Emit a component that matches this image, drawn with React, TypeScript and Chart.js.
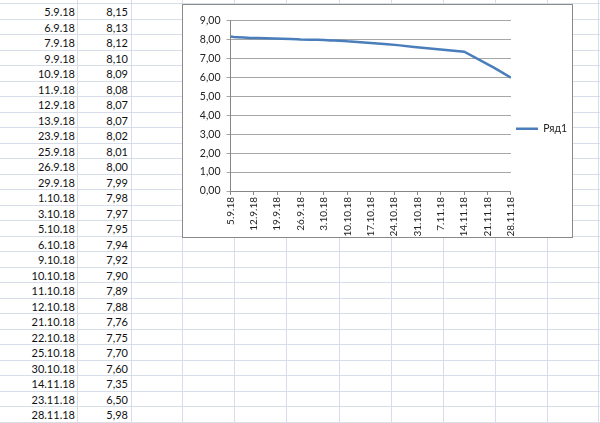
import React, { useEffect, useRef } from 'react';
import { Chart, registerables } from 'chart.js';

Chart.register(...registerables);

const dates = [
  '5.9.18', '6.9.18', '7.9.18', '9.9.18', '10.9.18', '11.9.18', '12.9.18', '13.9.18',
  '23.9.18', '25.9.18', '26.9.18', '29.9.18', '1.10.18', '3.10.18', '5.10.18', '6.10.18',
  '9.10.18', '10.10.18', '11.10.18', '12.10.18', '21.10.18', '22.10.18', '25.10.18',
  '30.10.18', '14.11.18', '23.11.18', '28.11.18',
];
const values = [
  8.15, 8.13, 8.12, 8.1, 8.09, 8.08, 8.07, 8.07,
  8.02, 8.01, 8.0, 7.99, 7.98, 7.97, 7.95, 7.94,
  7.92, 7.9, 7.89, 7.88, 7.76, 7.75, 7.7,
  7.6, 7.35, 6.5, 5.98,
];
const xTickLabels = [
  '5.9.18', '12.9.18', '19.9.18', '26.9.18', '3.10.18', '10.10.18', '17.10.18',
  '24.10.18', '31.10.18', '7.11.18', '14.11.18', '21.11.18', '28.11.18',
];
const yTickMin = 0;
const yTickMax = 9;
const tickStepDays = 7;
const seriesName = 'Ряд1';

const dayNumber = (s: string) => {
  const [d, m, y] = s.split('.').map(Number);
  return Date.UTC(2000 + y, m - 1, d) / 86400000;
};
const startDay = dayNumber(dates[0]);
const points = dates.map((d, i) => ({ x: dayNumber(d) - startDay, y: values[i] }));
const fmt = (v: number) => v.toFixed(2).replace('.', ',');

const LINE = '#4a7ebb';
const FONT = 'Lato, "Liberation Sans", sans-serif';
const colX = [77, 131, 182, 234, 286, 339, 391, 443, 495, 547, 598];
const ROW_TOP = 3;
const ROW_H = 15.5;

function ChartBox() {
  const ref = useRef<HTMLCanvasElement | null>(null);
  useEffect(() => {
    if (!ref.current) return;
    const chart = new Chart(ref.current, {
      type: 'line',
      data: {
        datasets: [
          {
            label: seriesName,
            data: points,
            borderColor: LINE,
            backgroundColor: LINE,
            borderWidth: 2.5,
            pointRadius: 0,
            tension: 0,
            fill: false,
          },
        ],
      },
      options: {
        animation: false,
        responsive: false,
        maintainAspectRatio: false,
        layout: { padding: { top: 15.5, right: -5, bottom: 0, left: 0 } },
        plugins: {
          tooltip: { enabled: false },
          legend: {
            position: 'right',
            labels: {
              boxWidth: 22,
              boxHeight: 2.5,
              padding: 5,
              color: '#222',
              font: { family: FONT, size: 10.5 },
              generateLabels: (c: any) => {
                const items = (Chart.defaults.plugins.legend.labels as any).generateLabels(c);
                items.forEach((it: any) => {
                  it.lineWidth = 0;
                  it.fillStyle = LINE;
                });
                return items;
              },
            },
          },
        },
        scales: {
          x: {
            type: 'linear',
            min: 0,
            max: (xTickLabels.length - 1) * tickStepDays,
            afterFit: (s: any) => {
              s.height = 46;
            },
            grid: {
              drawOnChartArea: false,
              drawTicks: true,
              tickLength: 4,
              color: '#868686',
            },
            border: { display: true, color: '#868686' },
            ticks: {
              stepSize: tickStepDays,
              autoSkip: false,
              maxRotation: 90,
              minRotation: 90,
              padding: 2,
              color: '#222',
              font: { family: FONT, size: 10 },
              callback: (v: any) => xTickLabels[Math.round(Number(v) / tickStepDays)] ?? '',
            },
          },
          y: {
            min: yTickMin,
            max: yTickMax,
            afterFit: (s: any) => {
              s.width = 47.5;
            },
            grid: { color: '#a6a6a6', tickLength: 4, drawTicks: true },
            border: { display: true, color: '#868686' },
            ticks: {
              stepSize: 1,
              padding: 6,
              color: '#222',
              font: { family: FONT, size: 10.5 },
              callback: (v: any) => fmt(Number(v)),
            },
          },
        },
      },
    } as any);
    return () => chart.destroy();
  }, []);
  return (
    <div
      style={{
        position: 'absolute',
        left: 182,
        top: 4,
        width: 391,
        height: 234,
        border: '1px solid #8a8a8a',
        boxSizing: 'border-box',
        background: '#fff',
      }}
    >
      <canvas ref={ref} width={389} height={232} style={{ display: 'block', width: 389, height: 232 }} />
    </div>
  );
}

export default function App() {
  const rowLines = Array.from({ length: 28 }, (_, k) => ROW_TOP + ROW_H * k);
  return (
    <div
      style={{
        position: 'fixed',
        left: 0,
        top: 0,
        width: 600,
        height: 423,
        overflow: 'hidden',
        background: '#fff',
        fontFamily: FONT,
        fontSize: 11,
        color: '#111',
      }}
    >
      {rowLines.map((y, i) => (
        <div key={'h' + i} style={{ position: 'absolute', left: 0, top: y, width: 600, height: 1, background: '#d8dee9' }} />
      ))}
      {colX.map((x, i) => (
        <div key={'v' + i} style={{ position: 'absolute', left: x, top: 0, width: 1, height: 423, background: '#d8dee9' }} />
      ))}
      {dates.map((d, i) => (
        <React.Fragment key={'r' + i}>
          <div
            style={{
              position: 'absolute',
              left: 0,
              width: 75,
              top: ROW_TOP + ROW_H * i + 1,
              height: ROW_H,
              lineHeight: ROW_H + 'px',
              textAlign: 'right',
            }}
          >
            {d}
          </div>
          <div
            style={{
              position: 'absolute',
              left: 78,
              width: 50,
              top: ROW_TOP + ROW_H * i + 1,
              height: ROW_H,
              lineHeight: ROW_H + 'px',
              textAlign: 'right',
            }}
          >
            {fmt(values[i])}
          </div>
        </React.Fragment>
      ))}
      <ChartBox />
    </div>
  );
}
